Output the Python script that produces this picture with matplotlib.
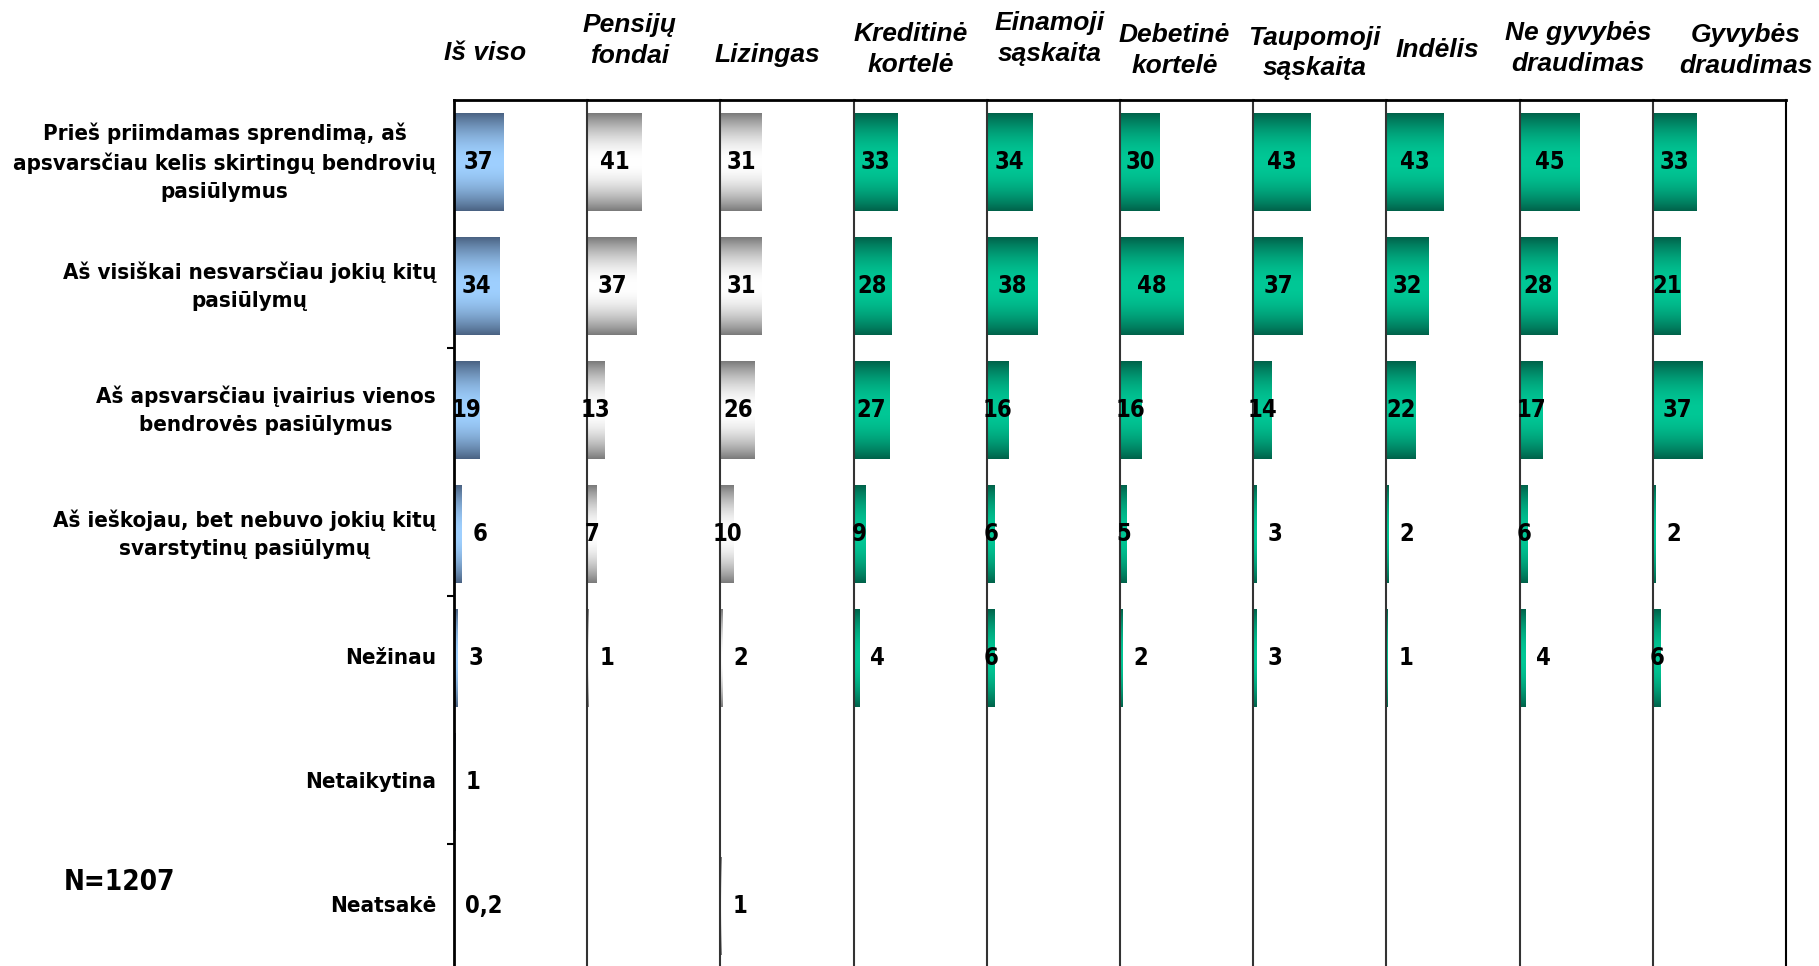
import numpy as np
import matplotlib
matplotlib.use("Agg")
import matplotlib.pyplot as plt
from matplotlib.transforms import blended_transform_factory


ROW_LABELS = [
    "Prieš priimdamas sprendimą, aš\napsvarsčiau kelis skirtingų bendrovių\npasiūlymus",
    "Aš visiškai nesvarsčiau jokių kitų\npasiūlymų",
    "Aš apsvarsčiau įvairius vienos\nbendrovės pasiūlymus",
    "Aš ieškojau, bet nebuvo jokių kitų\nsvarstytinų pasiūlymų",
    "Nežinau",
    "Netaikytina",
    "Neatsakė",
]

GROUPS = [
    "Iš viso", "Pensijų\nfondai", "Lizingas", "Kreditinė\nkortelė",
    "Einamoji\nsąskaita", "Debetinė\nkortelė", "Taupomoji\nsąskaita",
    "Indėlis", "Ne gyvybės\ndraudimas", "Gyvybės\ndraudimas",
]

nan = np.nan
is_viso = [37, 34, 19, 6, 3, 1, 0.2]
pensiju_fondai = [41, 37, 13, 7, 1, nan, nan]
lizingas = [31, 31, 26, 10, 2, nan, 1]
kreditine_kortele = [33, 28, 27, 9, 4, nan, nan]
einamoji_saskaita = [34, 38, 16, 6, 6, nan, nan]
debetine_kortele = [30, 48, 16, 5, 2, nan, nan]
taupomoji_saskaita = [43, 37, 14, 3, 3, nan, nan]
indelis = [43, 32, 22, 2, 1, nan, nan]
ne_gyvybes = [45, 28, 17, 6, 4, nan, nan]
gyvybes = [33, 21, 37, 2, 6, nan, nan]

VALUES = [is_viso, pensiju_fondai, lizingas, kreditine_kortele, einamoji_saskaita,
          debetine_kortele, taupomoji_saskaita, indelis, ne_gyvybes, gyvybes]

# gradient (edge colour, middle colour) per group
BLUE = ("#4a6282", "#9fd0ff")
GRAY = ("#7a7a7a", "#ffffff")
GREEN = ("#00624a", "#00c896")
GROUP_COLORS = [BLUE, GRAY, GRAY] + [GREEN] * 7

# header placement within each panel (axes fraction x, figure y)
HEADER_X = [0.23, 0.32, 0.35, 0.43, 0.47, 0.41, 0.46, 0.38, 0.44, 0.70]
HEADER_Y = [0.945, 0.958, 0.943, 0.949, 0.960, 0.948, 0.945, 0.948, 0.950, 0.948]

W, H = 1819, 966
PANEL_LEFT = 454
PANEL_W = 133.2
TOP = 100
BOTTOM = 968


def gradient_rgba(edge, mid, n=128):
    t = np.linspace(0, 1, n)
    s = np.sin(np.pi * t) ** 0.9
    e = np.array(matplotlib.colors.to_rgb(edge))
    m = np.array(matplotlib.colors.to_rgb(mid))
    rgb = e[None, :] + (m - e)[None, :] * s[:, None]
    return rgb[:, None, :]


def fmt(v):
    if float(v).is_integer():
        return f"{int(v)}"
    return f"{v}".replace(".", ",")


def main() -> None:
    fig = plt.figure(figsize=(W / 100, H / 100), dpi=100)
    lab_font = dict(family="DejaVu Sans", weight="bold", stretch="condensed")
    n_rows = len(ROW_LABELS)
    y = np.arange(n_rows)

    axes = []
    for g, (name, vals) in enumerate(zip(GROUPS, VALUES)):
        left = (PANEL_LEFT + g * PANEL_W) / W
        ax = fig.add_axes([left, 1 - BOTTOM / H, PANEL_W / W, (BOTTOM - TOP) / H])
        axes.append(ax)
        vals = np.array(vals, dtype=float)
        bars = ax.barh(y, np.nan_to_num(vals), height=0.79, color="none")
        grad = gradient_rgba(*GROUP_COLORS[g])
        threshold = 7 if g == 0 else 5
        for rect, v, yy in zip(bars, vals, y):
            if np.isnan(v):
                continue
            x0, y0 = rect.get_x(), rect.get_y()
            ax.imshow(grad, extent=(x0, x0 + rect.get_width(), y0 + rect.get_height(), y0),
                      aspect="auto", interpolation="bilinear", zorder=2)
            if v >= threshold:
                ax.text(v / 2, yy, fmt(v), ha="center", va="center",
                        fontsize=17, zorder=3, **lab_font)
            else:
                ax.text(v + 8, yy, fmt(v), ha="left", va="center",
                        fontsize=17, zorder=3, **lab_font)

        ax.set_xlim(0, 100)
        ax.set_ylim(n_rows - 0.5, -0.5)
        ax.set_xticks([])
        ax.spines["bottom"].set_visible(False)
        ax.spines["right"].set_visible(g == len(GROUPS) - 1)
        ax.spines["top"].set_linewidth(2)
        ax.spines["left"].set_linewidth(2 if g == 0 else 1.5)
        ax.spines["right"].set_linewidth(1.5)
        ax.spines["left"].set_color("black" if g == 0 else "#333333")
        if g == 0:
            ax.set_yticks([1.5, 3.5, 5.5])
            ax.set_yticklabels([])
            ax.tick_params(axis="y", length=5, width=1.5, direction="out")
        else:
            ax.set_yticks([])

        fig.text(left + HEADER_X[g] * PANEL_W / W, HEADER_Y[g], name,
                 ha="center", va="center", fontsize=19, family="Liberation Sans",
                 weight="bold", style="italic", linespacing=1.35)

    trans = blended_transform_factory(fig.transFigure, axes[0].transData)
    for i, label in enumerate(ROW_LABELS):
        fig.text(436 / W, i, label, transform=trans, ha="right", va="center",
                 multialignment="center", fontsize=16, linespacing=1.5, **lab_font)

    fig.text(64 / W, 1 - 882 / H, "N=1207", ha="left", va="center",
             fontsize=20, **lab_font)

    fig.savefig("out.png", dpi=100)
    plt.close(fig)


if __name__ == "__main__":
    main()
